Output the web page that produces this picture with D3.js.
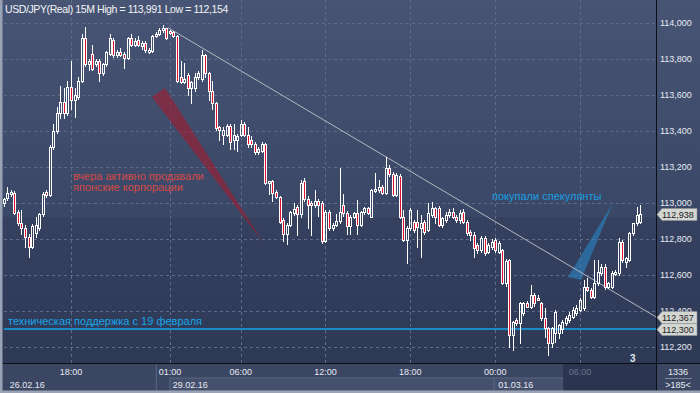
<!DOCTYPE html>
<html>
<head>
<meta charset="utf-8">
<script src="https://cdn.jsdelivr.net/npm/d3@7"></script>
<style>
  body { margin: 0; background: #2e3852; }
  svg { display: block; font-family: "Liberation Sans", Arial, sans-serif; }
</style>
</head>
<body>
<svg id="chart"></svg>
<script>
// 15M candles, [open, high, low, close], from 26.02.16 13:15 to 01.03.16 10:15
const candles = [
  [113.000,113.030,112.985,113.020],[113.026,113.091,113.015,113.054],[113.050,113.075,113.040,113.062],
  [113.057,113.065,112.940,112.946],[112.950,112.960,112.880,112.887],[112.887,112.960,112.830,112.860],
  [112.860,112.880,112.757,112.813],[112.813,112.830,112.700,112.757],[112.757,112.885,112.750,112.870],
  [112.835,112.920,112.810,112.880],[112.860,112.945,112.850,112.940],[112.940,113.060,112.930,113.050],
  [113.062,113.075,113.035,113.045],[113.045,113.320,113.040,113.313],[113.313,113.440,113.300,113.400],
  [113.400,113.535,113.390,113.500],[113.500,113.650,113.470,113.560],[113.560,113.640,113.470,113.500],
  [113.500,113.680,113.490,113.646],[113.646,113.790,113.520,113.570],[113.570,113.640,113.480,113.600],
  [113.590,113.700,113.580,113.680],[113.680,113.940,113.670,113.915],[113.915,113.980,113.760,113.770],
  [113.770,113.800,113.740,113.790],[113.830,113.880,113.740,113.745],[113.770,113.800,113.760,113.790],
  [113.790,113.800,113.680,113.720],[113.720,113.780,113.710,113.775],[113.775,113.845,113.760,113.840],
  [113.830,113.940,113.820,113.915],[113.905,113.915,113.810,113.820],[113.820,113.850,113.810,113.840],
  [113.840,113.860,113.815,113.820],[113.830,113.840,113.750,113.805],[113.805,113.925,113.800,113.915],
  [113.915,113.940,113.875,113.880],[113.880,113.915,113.870,113.900],[113.905,113.930,113.875,113.880],
  [113.870,113.900,113.855,113.890],[113.890,113.900,113.840,113.850],[113.845,113.860,113.835,113.850],
  [113.845,113.935,113.840,113.930],[113.930,113.950,113.920,113.940],[113.940,113.970,113.935,113.960],
  [113.960,113.991,113.950,113.970],[113.970,113.975,113.910,113.915],[113.955,113.960,113.940,113.945],
  [113.950,113.955,113.925,113.930],[113.930,113.935,113.670,113.680],[113.700,113.790,113.665,113.675],
  [113.675,113.780,113.665,113.690],[113.710,113.720,113.600,113.637],[113.637,113.680,113.554,113.670],
  [113.637,113.720,113.620,113.700],[113.700,113.735,113.690,113.720],[113.690,113.850,113.680,113.822],
  [113.822,113.830,113.700,113.720],[113.720,113.730,113.570,113.620],[113.620,113.680,113.525,113.554],
  [113.554,113.560,113.405,113.415],[113.420,113.430,113.350,113.405],[113.378,113.420,113.330,113.405],
  [113.378,113.440,113.370,113.430],[113.430,113.440,113.300,113.340],[113.350,113.440,113.300,113.378],
  [113.350,113.385,113.290,113.370],[113.378,113.460,113.370,113.440],[113.440,113.450,113.370,113.378],
  [113.378,113.420,113.310,113.330],[113.350,113.370,113.310,113.330],[113.330,113.340,113.275,113.285],
  [113.285,113.310,113.275,113.300],[113.290,113.340,113.285,113.330],[113.330,113.335,113.105,113.110],
  [113.110,113.125,113.050,113.120],[113.120,113.130,113.010,113.054],[113.060,113.070,113.030,113.035],
  [113.035,113.040,112.890,112.896],[112.905,112.915,112.790,112.830],[112.830,112.890,112.770,112.880],
  [112.880,112.955,112.875,112.950],[112.945,113.000,112.935,112.965],[112.980,112.990,112.820,112.940],
  [112.940,113.130,112.920,113.110],[113.120,113.140,113.010,113.020],[113.020,113.040,112.860,112.990],
  [113.000,113.010,112.820,112.990],[112.990,113.070,112.980,113.010],[113.010,113.020,112.930,112.990],
  [113.000,113.010,112.776,112.790],[112.790,112.960,112.785,112.950],[112.950,112.960,112.850,112.860],
  [112.860,112.890,112.850,112.880],[112.880,112.940,112.870,112.900],[112.900,113.193,112.890,112.950],
  [112.990,113.050,112.930,112.946],[112.945,112.955,112.830,112.870],[112.870,112.935,112.830,112.925],
  [112.925,112.950,112.915,112.944],[112.944,113.016,112.830,112.880],[112.880,112.955,112.870,112.950],
  [112.950,112.980,112.940,112.970],[112.970,112.980,112.940,112.946],[112.925,113.080,112.920,113.070],
  [113.070,113.165,113.060,113.080],[113.070,113.130,113.060,113.090],[113.090,113.100,113.050,113.054],
  [113.054,113.257,113.050,113.193],[113.193,113.210,113.150,113.160],[113.160,113.170,113.040,113.045],
  [113.045,113.165,113.040,113.155],[113.150,113.160,112.915,112.920],[112.920,112.960,112.790,112.795],
  [112.795,112.870,112.665,112.859],[112.859,112.975,112.850,112.961],[112.895,112.905,112.840,112.850],
  [112.895,112.961,112.757,112.868],[112.859,112.933,112.702,112.887],[112.895,112.905,112.830,112.840],
  [112.850,112.998,112.845,112.942],[112.933,113.007,112.925,112.970],[112.970,112.980,112.887,112.924],
  [112.970,112.985,112.870,112.878],[112.878,112.920,112.868,112.915],[112.905,112.950,112.895,112.933],
  [112.933,112.965,112.925,112.952],[112.952,112.970,112.915,112.924],[112.924,112.935,112.895,112.905],
  [112.905,112.960,112.890,112.942],[112.952,112.965,112.890,112.896],[112.896,112.905,112.820,112.832],
  [112.840,112.850,112.794,112.822],[112.822,112.840,112.702,112.748],[112.766,112.780,112.720,112.739],
  [112.739,112.815,112.730,112.804],[112.804,112.815,112.710,112.720],[112.730,112.780,112.720,112.767],
  [112.757,112.800,112.745,112.785],[112.795,112.805,112.730,112.739],[112.730,112.790,112.720,112.776],
  [112.739,112.745,112.550,112.554],[112.554,112.690,112.540,112.680],[112.683,112.690,112.200,112.267],
  [112.267,112.345,112.183,112.340],[112.350,112.360,112.320,112.332],[112.332,112.450,112.220,112.443],
  [112.387,112.450,112.380,112.443],[112.443,112.455,112.420,112.424],[112.424,112.545,112.415,112.489],
  [112.489,112.500,112.430,112.443],[112.470,112.490,112.460,112.461],[112.443,112.450,112.350,112.359],
  [112.359,112.415,112.257,112.304],[112.304,112.310,112.154,112.220],[112.220,112.310,112.200,112.304],
  [112.276,112.405,112.230,112.396],[112.276,112.330,112.250,112.322],[112.300,112.350,112.280,112.341],
  [112.332,112.370,112.320,112.359],[112.350,112.395,112.340,112.378],[112.369,112.420,112.360,112.405],
  [112.387,112.433,112.380,112.415],[112.405,112.470,112.400,112.461],[112.415,112.572,112.405,112.535],
  [112.535,112.582,112.510,112.517],[112.517,112.525,112.470,112.480],[112.480,112.683,112.470,112.554],
  [112.554,112.683,112.545,112.619],[112.610,112.660,112.600,112.646],[112.646,112.660,112.520,112.535],
  [112.535,112.560,112.525,112.554],[112.535,112.620,112.530,112.610],[112.610,112.630,112.600,112.619],
  [112.610,112.804,112.600,112.785],[112.785,112.795,112.670,112.683],[112.674,112.700,112.645,112.692],
  [112.683,112.840,112.675,112.832],[112.832,112.890,112.825,112.887],[112.887,112.980,112.880,112.933],
  [112.895,112.991,112.890,112.938]
];

const priceTicks = [112.2, 112.4, 112.6, 112.8, 113.0, 113.2, 113.4, 113.6, 113.8, 114.0];
const timeTickIdx = [19, 47, 67, 91, 115, 139, 163];
const timeTickLabels = ["18:00", "01:00", "06:00", "12:00", "18:00", "00:00", "06:00"];
const dayStartIdx = [0, 43, 139];
const dayLabels = ["26.02.16", "29.02.16", "01.03.16"];

// annotations: [candle index, price]
const trendLine = [[46.4, 113.975], [184.5, 112.367]];
const supportLevel = 112.300;
const redWedge = [[41.9, 113.589], [45.6, 113.639], [73.3, 112.783]];
const blueWedge = [[159.6, 112.589], [163.3, 112.572], [172.3, 113.000]];
const priceTags = [112.938, 112.367, 112.300];

const W = 700, H = 393, plotR = 656, plotB = 363;

const svg = d3.select("#chart").attr("width", W).attr("height", H);

const x = d3.scaleLinear().domain([0, 180]).range([3.8, 640.1]);
const y = d3.scaleLinear().domain([112.111, 114.128]).range([plotB, 0]);
const fmt = v => d3.format(".3f")(v).replace(".", ",");

// background
const defs = svg.append("defs");
const g1 = defs.append("linearGradient").attr("id", "bgTop").attr("x1", 0).attr("y1", 0).attr("x2", 0).attr("y2", 1);
g1.append("stop").attr("offset", "0%").attr("stop-color", "#485474");
g1.append("stop").attr("offset", "100%").attr("stop-color", "#3b4767");
const g2 = defs.append("linearGradient").attr("id", "bgBot").attr("x1", 0).attr("y1", 0).attr("x2", 0).attr("y2", 1);
g2.append("stop").attr("offset", "0%").attr("stop-color", "#35415f");
g2.append("stop").attr("offset", "100%").attr("stop-color", "#2e3956");

svg.append("rect").attr("width", W).attr("height", 217).attr("fill", "url(#bgTop)");
svg.append("rect").attr("y", 217).attr("width", W).attr("height", plotB - 217).attr("fill", "url(#bgBot)");

// bottom axis panel
svg.append("rect").attr("y", plotB).attr("width", W).attr("height", H - plotB).attr("fill", "#3b4663");
svg.append("rect").attr("x", x(dayStartIdx[1]) + 14).attr("y", 378).attr("width", x(dayStartIdx[2]) - x(dayStartIdx[1]) - 15)
  .attr("height", 13).attr("fill", "#44506c").attr("stroke", "#5a6580").attr("stroke-width", 1);
svg.append("rect").attr("x", x(dayStartIdx[2]) - 1).attr("y", 378).attr("width", 69)
  .attr("height", 13).attr("fill", "#44506c").attr("stroke", "#5a6580").attr("stroke-width", 1);
svg.append("rect").attr("x", 563).attr("y", plotB + 1).attr("width", plotR - 563).attr("height", H - plotB - 3).attr("fill", "#2b3550");
svg.append("line").attr("x1", x(dayStartIdx[1]) + 0.5).attr("x2", x(dayStartIdx[1]) + 0.5)
  .attr("y1", plotB).attr("y2", 391).attr("stroke", "#5a6580");

// grid
svg.append("g").selectAll("line").data(priceTicks).join("line")
  .attr("x1", 4).attr("x2", plotR)
  .attr("y1", d => Math.round(y(d)) + 0.5).attr("y2", d => Math.round(y(d)) + 0.5)
  .attr("stroke", "#5f6b88").attr("stroke-dasharray", "3,3");
svg.append("g").selectAll("line").data(timeTickIdx).join("line")
  .attr("x1", d => Math.round(x(d)) + 0.5).attr("x2", d => Math.round(x(d)) + 0.5)
  .attr("y1", 0).attr("y2", plotB)
  .attr("stroke", "#5f6b88").attr("stroke-dasharray", "3,3");

// wedges
const pt = p => [x(p[0]), y(p[1])];
svg.append("polygon").attr("points", redWedge.map(pt).join(" "))
  .attr("fill", "#9a1f33").attr("fill-opacity", 0.65);
svg.append("polygon").attr("points", blueWedge.map(pt).join(" "))
  .attr("fill", "#2a86c8").attr("fill-opacity", 0.6);

// support & trend lines
svg.append("line").attr("x1", 4).attr("x2", plotR)
  .attr("y1", y(supportLevel)).attr("y2", y(supportLevel))
  .attr("stroke", "#16a6ea").attr("stroke-width", 1.4);
svg.append("line")
  .attr("x1", x(trendLine[0][0])).attr("y1", y(trendLine[0][1]))
  .attr("x2", x(trendLine[1][0])).attr("y2", y(trendLine[1][1]))
  .attr("stroke", "#b4b8c0").attr("stroke-width", 1);

// candles
const cg = svg.append("g");
candles.forEach((d, i) => {
  const [o, h, l, c] = d;
  const cx = Math.round(x(i));
  const top = Math.round(y(Math.max(o, c)));
  let bot = Math.round(y(Math.min(o, c)));
  if (bot - top < 2) bot = top + 2;
  const hi = Math.round(y(h)), lo = Math.round(y(l));
  if (hi < top) cg.append("rect").attr("x", cx).attr("y", hi).attr("width", 1).attr("height", top - hi).attr("fill", "#fff");
  if (lo > bot) cg.append("rect").attr("x", cx).attr("y", bot).attr("width", 1).attr("height", lo - bot + 1).attr("fill", "#fff");
  cg.append("rect")
    .attr("x", cx - 0.5).attr("y", top + 0.5)
    .attr("width", 2).attr("height", bot - top)
    .attr("fill", c < o ? "#e3122f" : "none")
    .attr("stroke", "#fff").attr("stroke-width", 1);
});

// annotation texts
svg.append("text").attr("x", 73).attr("y", 180).attr("fill", "#d44a46").attr("font-size", 11)
  .text("вчера активно продавали");
svg.append("text").attr("x", 73).attr("y", 191).attr("fill", "#d44a46").attr("font-size", 11)
  .text("японские корпорации");
svg.append("text").attr("x", 492).attr("y", 200).attr("fill", "#1a9fe0").attr("font-size", 11)
  .text("покупали спекулянты");
svg.append("text").attr("x", 8).attr("y", 325).attr("fill", "#16a6ea").attr("font-size", 11)
  .text("техническая поддержка с 19 февраля");
svg.append("text").attr("x", 630).attr("y", 362).attr("fill", "#dfe6f2").attr("font-size", 10).attr("font-weight", "bold")
  .text("3");

// title
svg.append("text").attr("x", 5).attr("y", 13).attr("fill", "#f2f4f8").attr("font-size", 10.5)
  .attr("letter-spacing", -0.4)
  .text("USD/JPY(Real) 15M High = 113,991 Low = 112,154");

// panel frame lines
svg.append("line").attr("x1", 0).attr("x2", W).attr("y1", plotB + 0.5).attr("y2", plotB + 0.5).attr("stroke", "#0b0f18");
svg.append("line").attr("x1", plotR + 0.5).attr("x2", plotR + 0.5).attr("y1", 0).attr("y2", H).attr("stroke", "#0b0f18");

// right price axis
svg.append("g").selectAll("text").data(priceTicks).join("text")
  .attr("x", 660).attr("y", d => y(d)).attr("dy", "0.35em")
  .attr("fill", "#e6eaf2").attr("font-size", 9)
  .text(fmt);

// price tags
const tg = svg.append("g").selectAll("g").data(priceTags).join("g")
  .attr("transform", d => `translate(0,${Math.round(y(d))})`);
tg.append("path").attr("d", "M657,0.5 L662,-5.5 L697,-5.5 L697,6.5 L662,6.5 Z")
  .attr("fill", "#d3d5d1").attr("stroke", "#8e9499").attr("stroke-width", 0.6);
tg.append("text").attr("x", 662).attr("y", 0.5).attr("dy", "0.35em")
  .attr("fill", "#1b1d22").attr("font-size", 9).text(fmt);

// time axis
svg.append("g").selectAll("text").data(timeTickIdx).join("text")
  .attr("x", d => x(d)).attr("y", 375).attr("text-anchor", "middle")
  .attr("fill", (d, i) => i === timeTickIdx.length - 1 ? "#69738c" : "#e6eaf2")
  .attr("font-size", 9)
  .text((d, i) => timeTickLabels[i]);
const dayOffsets = [6, 17, 3];
svg.append("g").selectAll("text").data(dayStartIdx).join("text")
  .attr("x", (d, i) => x(d) + dayOffsets[i]).attr("y", 388)
  .attr("fill", "#e6eaf2").attr("font-size", 9)
  .text((d, i) => dayLabels[i]);

// bottom right cell
svg.append("text").attr("x", 678).attr("y", 375).attr("text-anchor", "middle")
  .attr("fill", "#e6eaf2").attr("font-size", 9).text("1336");
svg.append("line").attr("x1", 665).attr("x2", 692).attr("y1", 378.5).attr("y2", 378.5).attr("stroke", "#7c869c");
svg.append("text").attr("x", 678).attr("y", 388).attr("text-anchor", "middle")
  .attr("fill", "#e6eaf2").attr("font-size", 9).text(">185<");

// outer border
svg.append("rect").attr("x", 0).attr("y", 0).attr("width", 2.5).attr("height", H).attr("fill", "#9aa3b5");
svg.append("rect").attr("x", 0).attr("y", H - 2.5).attr("width", W).attr("height", 2.5).attr("fill", "#9aa3b5");
</script>
</body>
</html>
